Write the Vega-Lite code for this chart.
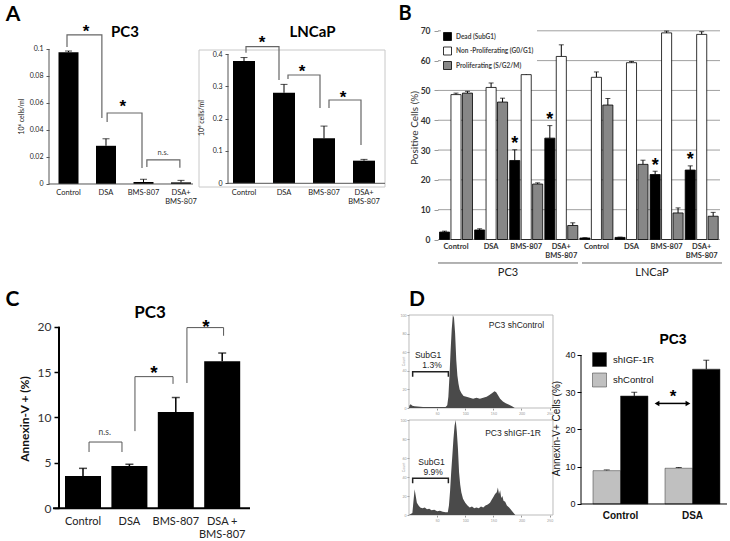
{
  "$schema": "https://vega.github.io/schema/vega-lite/v6.json",
  "background": "white",
  "width": 730,
  "height": 541,
  "autosize": {"type": "none"},
  "padding": 0,
  "config": {
    "view": {"stroke": null},
    "font": "Lato",
    "axis": {"labelFont": "Lato", "titleFont": "Lato", "grid": false},
    "legend": {"labelFont": "Lato"}
  },
  "layer": [
    {
      "layer": [
        {
          "data": {"values": [
            {"cond": "Control", "mean": 0.0976, "hi": 0.0985},
            {"cond": "DSA", "mean": 0.0283, "hi": 0.0335},
            {"cond": "BMS-807", "mean": 0.0015, "hi": 0.0035},
            {"cond": "DSA+ BMS-807", "mean": 0.0012, "hi": 0.0027}
          ]},
          "encoding": {
            "x": {"field": "cond", "type": "nominal", "sort": null,
              "scale": {"range": [49.75, 199.75], "paddingInner": 0.46667, "paddingOuter": 0.23333},
              "axis": {"orient": "bottom", "offset": -357, "title": null, "labelAngle": 0, "ticks": false, "domain": false, "labelFontSize": 7.5, "labelColor": "#222", "labelPadding": 4, "labelLineHeight": 9,
                "labelExpr": "datum.label == 'DSA+ BMS-807' ? ['DSA+', 'BMS-807'] : datum.label"}},
            "y": {"field": "mean", "type": "quantitative", "scale": {"domain": [-0.264444, 0.136296], "nice": false, "zero": false},
              "axis": {"orient": "left", "offset": -49, "title": null, "values": [0, 0.02, 0.04, 0.06, 0.08, 0.1], "format": "~g", "domain": false,
                "tickColor": "#555", "tickSize": 3, "labelFontSize": 7, "labelColor": "#222", "labelPadding": 3}}
          },
          "layer": [
            {"mark": {"type": "rule", "color": "#000", "strokeWidth": 1}, "encoding": {"y2": {"field": "hi"}}},
            {"mark": {"type": "tick", "color": "#000", "size": 7, "thickness": 1},
             "encoding": {"y": {"field": "hi", "type": "quantitative", "scale": {"domain": [-0.264444, 0.136296], "nice": false, "zero": false},
               "axis": {"orient": "left", "offset": -49, "title": null, "values": [0, 0.02, 0.04, 0.06, 0.08, 0.1], "format": "~g", "domain": false,
                 "tickColor": "#555", "tickSize": 3, "labelFontSize": 7, "labelColor": "#222", "labelPadding": 3}}}},
            {"mark": {"type": "bar", "color": "#000"}, "encoding": {"y2": {"datum": 0}}}
          ]
        },
        {
          "data": {"values": [{}]},
          "mark": {"type": "rule", "color": "#555", "strokeWidth": 1},
          "encoding": {
            "x": {"datum": -0.02, "type": "quantitative", "scale": {"domain": [-1.32667, 18.14], "nice": false, "zero": false}, "axis": null},
            "y": {"datum": 0, "type": "quantitative", "scale": {"domain": [-0.264444, 0.136296], "nice": false, "zero": false}, "axis": null},
            "y2": {"datum": 0.1}
          }
        },
        {
          "data": {"values": [{}]},
          "mark": {"type": "rule", "color": "#555", "strokeWidth": 1},
          "encoding": {
            "x": {"datum": -0.02, "type": "quantitative", "scale": {"domain": [-1.32667, 18.14], "nice": false, "zero": false}, "axis": null},
            "x2": {"datum": 3.82},
            "y": {"datum": 0, "type": "quantitative", "scale": {"domain": [-0.264444, 0.136296], "nice": false, "zero": false}, "axis": null}
          }
        },
        {
          "data": {"values": [
            {"b": 1, "k": 1, "x": 0.46, "y": 0.1015}, {"b": 1, "k": 2, "x": 0.46, "y": 0.1104}, {"b": 1, "k": 3, "x": 1.39, "y": 0.1104}, {"b": 1, "k": 4, "x": 1.39, "y": 0.0489},
            {"b": 2, "k": 1, "x": 1.53, "y": 0.0459}, {"b": 2, "k": 2, "x": 1.53, "y": 0.0526}, {"b": 2, "k": 3, "x": 2.46, "y": 0.0526}, {"b": 2, "k": 4, "x": 2.46, "y": 0.0119},
            {"b": 3, "k": 1, "x": 2.59, "y": 0.0126}, {"b": 3, "k": 2, "x": 2.59, "y": 0.0178}, {"b": 3, "k": 3, "x": 3.47, "y": 0.0178}, {"b": 3, "k": 4, "x": 3.47, "y": 0.012}
          ]},
          "mark": {"type": "line", "color": "#666", "strokeWidth": 1.2},
          "encoding": {
            "x": {"field": "x", "type": "quantitative", "scale": {"domain": [-1.32667, 18.14], "nice": false, "zero": false}, "axis": null},
            "y": {"field": "y", "type": "quantitative", "scale": {"domain": [-0.264444, 0.136296], "nice": false, "zero": false}, "axis": null},
            "detail": {"field": "b"},
            "order": {"field": "k"}
          }
        },
        {
          "data": {"values": [{"x": 0.97, "y": 0.1156, "t": "*"}, {"x": 1.95, "y": 0.06, "t": "*"}]},
          "mark": {"type": "text", "font": "Liberation Sans", "fontSize": 17, "fontWeight": "bold", "baseline": "middle", "dy": 4.5, "color": "#000"},
          "encoding": {
            "x": {"field": "x", "type": "quantitative", "scale": {"domain": [-1.32667, 18.14], "nice": false, "zero": false}, "axis": null},
            "y": {"field": "y", "type": "quantitative", "scale": {"domain": [-0.264444, 0.136296], "nice": false, "zero": false}, "axis": null},
            "text": {"field": "t"}
          }
        },
        {
          "data": {"values": [{"x": 3.02, "y": 0.023, "t": "n.s."}]},
          "mark": {"type": "text", "fontSize": 7.5, "color": "#444", "baseline": "middle"},
          "encoding": {
            "x": {"field": "x", "type": "quantitative", "scale": {"domain": [-1.32667, 18.14], "nice": false, "zero": false}, "axis": null},
            "y": {"field": "y", "type": "quantitative", "scale": {"domain": [-0.264444, 0.136296], "nice": false, "zero": false}, "axis": null},
            "text": {"field": "t"}
          }
        },
        {
          "data": {"values": [{}]},
          "mark": {"type": "text", "text": "PC3", "fontSize": 15, "fontWeight": "bold", "baseline": "middle", "color": "#000"},
          "encoding": {
            "x": {"datum": 2.0067, "type": "quantitative", "scale": {"domain": [-1.32667, 18.14], "nice": false, "zero": false}, "axis": null},
            "y": {"datum": 0.1126, "type": "quantitative", "scale": {"domain": [-0.264444, 0.136296], "nice": false, "zero": false}, "axis": null}
          }
        },
        {
          "data": {"values": [{}]},
          "mark": {"type": "text", "text": "A", "fontSize": 21, "fontWeight": "bold", "baseline": "middle", "color": "#000"},
          "encoding": {
            "x": {"datum": -0.98, "type": "quantitative", "scale": {"domain": [-1.32667, 18.14], "nice": false, "zero": false}, "axis": null},
            "y": {"datum": 0.12519, "type": "quantitative", "scale": {"domain": [-0.264444, 0.136296], "nice": false, "zero": false}, "axis": null}
          }
        },
        {
          "data": {"values": [{}]},
          "mark": {"type": "text", "text": "10⁶ cells/ml", "fontSize": 7, "angle": 270, "baseline": "middle", "color": "#222"},
          "encoding": {
            "x": {"datum": -0.74, "type": "quantitative", "scale": {"domain": [-1.32667, 18.14], "nice": false, "zero": false}, "axis": null},
            "y": {"datum": 0.05, "type": "quantitative", "scale": {"domain": [-0.264444, 0.136296], "nice": false, "zero": false}, "axis": null}
          }
        }
      ],
      "resolve": {"scale": {"x": "independent", "y": "independent"}}
    },
    {
      "layer": [
        {
          "data": {"values": [{}]},
          "mark": {"type": "rect", "fillOpacity": 0, "stroke": "#c8c8c8", "strokeWidth": 1},
          "encoding": {
            "x": {"datum": -0.625, "type": "quantitative", "scale": {"domain": [-5.6, 12.65], "nice": false, "zero": false}, "axis": null},
            "x2": {"datum": 4.025},
            "y": {"datum": -0.011446, "type": "quantitative", "scale": {"domain": [-1.10658, 0.56706], "nice": false, "zero": false}, "axis": null},
            "y2": {"datum": 0.41237}
          }
        },
        {
          "data": {"values": [
            {"cond": "Control", "mean": 0.378, "hi": 0.389},
            {"cond": "DSA", "mean": 0.28, "hi": 0.306},
            {"cond": "BMS-807", "mean": 0.139, "hi": 0.177},
            {"cond": "DSA+ BMS-807", "mean": 0.07, "hi": 0.074}
          ]},
          "encoding": {
            "x": {"field": "cond", "type": "nominal", "sort": null,
              "scale": {"range": [224, 384], "paddingInner": 0.45, "paddingOuter": 0.225},
              "axis": {"orient": "bottom", "offset": -357.7, "title": null, "labelAngle": 0, "ticks": false, "domain": false, "labelFontSize": 7.5, "labelColor": "#222", "labelPadding": 5, "labelLineHeight": 9,
                "labelExpr": "datum.label == 'DSA+ BMS-807' ? ['DSA+', 'BMS-807'] : datum.label"}},
            "y": {"field": "mean", "type": "quantitative", "scale": {"domain": [-1.10658, 0.56706], "nice": false, "zero": false},
              "axis": {"orient": "left", "offset": -228, "title": null, "values": [0, 0.1, 0.2, 0.3, 0.4], "format": "~g", "domain": false,
                "tickColor": "#555", "tickSize": 3, "labelFontSize": 7, "labelColor": "#222", "labelPadding": 3}}
          },
          "layer": [
            {"mark": {"type": "rule", "color": "#000", "strokeWidth": 1}, "encoding": {"y2": {"field": "hi"}}},
            {"mark": {"type": "tick", "color": "#000", "size": 7, "thickness": 1},
             "encoding": {"y": {"field": "hi", "type": "quantitative", "scale": {"domain": [-1.10658, 0.56706], "nice": false, "zero": false},
               "axis": {"orient": "left", "offset": -228, "title": null, "values": [0, 0.1, 0.2, 0.3, 0.4], "format": "~g", "domain": false,
                 "tickColor": "#555", "tickSize": 3, "labelFontSize": 7, "labelColor": "#222", "labelPadding": 3}}}},
            {"mark": {"type": "bar", "color": "#000"}, "encoding": {"y2": {"datum": 0}}}
          ]
        },
        {
          "data": {"values": [{}]},
          "mark": {"type": "rule", "color": "#555", "strokeWidth": 1},
          "encoding": {
            "x": {"datum": 0.1, "type": "quantitative", "scale": {"domain": [-5.6, 12.65], "nice": false, "zero": false}, "axis": null},
            "y": {"datum": 0, "type": "quantitative", "scale": {"domain": [-1.10658, 0.56706], "nice": false, "zero": false}, "axis": null},
            "y2": {"datum": 0.4}
          }
        },
        {
          "data": {"values": [{}]},
          "mark": {"type": "rule", "color": "#555", "strokeWidth": 1},
          "encoding": {
            "x": {"datum": 0.1, "type": "quantitative", "scale": {"domain": [-5.6, 12.65], "nice": false, "zero": false}, "axis": null},
            "x2": {"datum": 4.025},
            "y": {"datum": 0, "type": "quantitative", "scale": {"domain": [-1.10658, 0.56706], "nice": false, "zero": false}, "axis": null}
          }
        },
        {
          "data": {"values": [
            {"b": 1, "k": 1, "x": 0.55, "y": 0.404}, {"b": 1, "k": 2, "x": 0.55, "y": 0.4226}, {"b": 1, "k": 3, "x": 1.375, "y": 0.4226}, {"b": 1, "k": 4, "x": 1.375, "y": 0.3196},
            {"b": 2, "k": 1, "x": 1.6, "y": 0.3227}, {"b": 2, "k": 2, "x": 1.6, "y": 0.335}, {"b": 2, "k": 3, "x": 2.4, "y": 0.335}, {"b": 2, "k": 4, "x": 2.4, "y": 0.233},
            {"b": 3, "k": 1, "x": 2.625, "y": 0.233}, {"b": 3, "k": 2, "x": 2.625, "y": 0.2577}, {"b": 3, "k": 3, "x": 3.425, "y": 0.2577}, {"b": 3, "k": 4, "x": 3.425, "y": 0.1185}
          ]},
          "mark": {"type": "line", "color": "#666", "strokeWidth": 1.2},
          "encoding": {
            "x": {"field": "x", "type": "quantitative", "scale": {"domain": [-5.6, 12.65], "nice": false, "zero": false}, "axis": null},
            "y": {"field": "y", "type": "quantitative", "scale": {"domain": [-1.10658, 0.56706], "nice": false, "zero": false}, "axis": null},
            "detail": {"field": "b"},
            "order": {"field": "k"}
          }
        },
        {
          "data": {"values": [{"x": 0.95, "y": 0.4495, "t": "*"}, {"x": 1.95, "y": 0.3567, "t": "*"}, {"x": 2.975, "y": 0.2763, "t": "*"}]},
          "mark": {"type": "text", "font": "Liberation Sans", "fontSize": 17, "fontWeight": "bold", "baseline": "middle", "dy": 4.5, "color": "#000"},
          "encoding": {
            "x": {"field": "x", "type": "quantitative", "scale": {"domain": [-5.6, 12.65], "nice": false, "zero": false}, "axis": null},
            "y": {"field": "y", "type": "quantitative", "scale": {"domain": [-1.10658, 0.56706], "nice": false, "zero": false}, "axis": null},
            "text": {"field": "t"}
          }
        },
        {
          "data": {"values": [{}]},
          "mark": {"type": "text", "text": "LNCaP", "fontSize": 15, "fontWeight": "bold", "baseline": "middle", "color": "#000"},
          "encoding": {
            "x": {"datum": 2.2125, "type": "quantitative", "scale": {"domain": [-5.6, 12.65], "nice": false, "zero": false}, "axis": null},
            "y": {"datum": 0.46806, "type": "quantitative", "scale": {"domain": [-1.10658, 0.56706], "nice": false, "zero": false}, "axis": null}
          }
        },
        {
          "data": {"values": [{}]},
          "mark": {"type": "text", "text": "10⁶ cells/ml", "fontSize": 7, "angle": 270, "baseline": "middle", "color": "#222"},
          "encoding": {
            "x": {"datum": -0.55, "type": "quantitative", "scale": {"domain": [-5.6, 12.65], "nice": false, "zero": false}, "axis": null},
            "y": {"datum": 0.202, "type": "quantitative", "scale": {"domain": [-1.10658, 0.56706], "nice": false, "zero": false}, "axis": null}
          }
        }
      ],
      "resolve": {"scale": {"x": "independent", "y": "independent"}}
    },
    {
      "layer": [
        {
          "data": {"values": [{"g": 0}, {"g": 10}, {"g": 20}, {"g": 30}, {"g": 40}, {"g": 50}, {"g": 60}, {"g": 70}]},
          "mark": {"type": "rule", "color": "#a0a0a0", "strokeWidth": 1},
          "encoding": {
            "x": {"datum": -0.0128, "type": "quantitative", "scale": {"domain": [-12.4915, 8.30627], "nice": false, "zero": false}, "axis": null},
            "x2": {"datum": 8.0214},
            "y": {"field": "g", "type": "quantitative", "scale": {"domain": [-101.126, 80.331], "nice": false, "zero": false}, "axis": null}
          }
        },
        {
          "data": {"values": [
            {"grp": "PC3:Control", "series": "Dead (SubG1)", "v": 2.5, "hi": 2.8, "sig": ""},
            {"grp": "PC3:Control", "series": "Non  -Proliferating (G0/G1)", "v": 48.6, "hi": 49.1, "sig": ""},
            {"grp": "PC3:Control", "series": "Proliferating (S/G2/M)", "v": 49.1, "hi": 49.7, "sig": ""},
            {"grp": "PC3:DSA", "series": "Dead (SubG1)", "v": 3.2, "hi": 3.6, "sig": ""},
            {"grp": "PC3:DSA", "series": "Non  -Proliferating (G0/G1)", "v": 51.0, "hi": 52.5, "sig": ""},
            {"grp": "PC3:DSA", "series": "Proliferating (S/G2/M)", "v": 46.1, "hi": 47.4, "sig": ""},
            {"grp": "PC3:BMS-807", "series": "Dead (SubG1)", "v": 26.5, "hi": 30.1, "sig": "*"},
            {"grp": "PC3:BMS-807", "series": "Non  -Proliferating (G0/G1)", "v": 55.3, "hi": 59.4, "sig": ""},
            {"grp": "PC3:BMS-807", "series": "Proliferating (S/G2/M)", "v": 18.6, "hi": 19.0, "sig": ""},
            {"grp": "PC3:DSA+ BMS-807", "series": "Dead (SubG1)", "v": 34.0, "hi": 38.2, "sig": "*"},
            {"grp": "PC3:DSA+ BMS-807", "series": "Non  -Proliferating (G0/G1)", "v": 61.4, "hi": 65.3, "sig": ""},
            {"grp": "PC3:DSA+ BMS-807", "series": "Proliferating (S/G2/M)", "v": 4.7, "hi": 5.6, "sig": ""},
            {"grp": "LNCaP:Control", "series": "Dead (SubG1)", "v": 0.5, "hi": 0.6, "sig": ""},
            {"grp": "LNCaP:Control", "series": "Non  -Proliferating (G0/G1)", "v": 54.4, "hi": 56.2, "sig": ""},
            {"grp": "LNCaP:Control", "series": "Proliferating (S/G2/M)", "v": 45.1, "hi": 47.3, "sig": ""},
            {"grp": "LNCaP:DSA", "series": "Dead (SubG1)", "v": 0.7, "hi": 0.8, "sig": ""},
            {"grp": "LNCaP:DSA", "series": "Non  -Proliferating (G0/G1)", "v": 59.3, "hi": 59.7, "sig": ""},
            {"grp": "LNCaP:DSA", "series": "Proliferating (S/G2/M)", "v": 25.2, "hi": 26.6, "sig": ""},
            {"grp": "LNCaP:BMS-807", "series": "Dead (SubG1)", "v": 21.8, "hi": 22.9, "sig": "*"},
            {"grp": "LNCaP:BMS-807", "series": "Non  -Proliferating (G0/G1)", "v": 69.3, "hi": 69.9, "sig": ""},
            {"grp": "LNCaP:BMS-807", "series": "Proliferating (S/G2/M)", "v": 8.9, "hi": 10.6, "sig": ""},
            {"grp": "LNCaP:DSA+ BMS-807", "series": "Dead (SubG1)", "v": 23.3, "hi": 24.7, "sig": "*"},
            {"grp": "LNCaP:DSA+ BMS-807", "series": "Non  -Proliferating (G0/G1)", "v": 68.8, "hi": 69.7, "sig": ""},
            {"grp": "LNCaP:DSA+ BMS-807", "series": "Proliferating (S/G2/M)", "v": 7.8, "hi": 9.1, "sig": ""}
          ]},
          "encoding": {
            "x": {"field": "grp", "type": "nominal", "sort": null,
              "scale": {"range": [438.45, 719.25], "paddingInner": 0.05983, "paddingOuter": 0.029915},
              "axis": {"orient": "bottom", "offset": -301.5, "title": null, "labelAngle": 0, "ticks": false, "domain": false, "labelFontSize": 7.5, "labelColor": "#333", "labelFontWeight": "bold", "labelPadding": 3, "labelLineHeight": 9,
                "labelExpr": "split(split(datum.label, ':')[1], ' ')"}},
            "xOffset": {"field": "series", "type": "nominal", "sort": ["Dead (SubG1)", "Non  -Proliferating (G0/G1)", "Proliferating (S/G2/M)"],
              "scale": {"paddingInner": 0.12, "paddingOuter": 0}},
            "y": {"field": "v", "type": "quantitative", "scale": {"domain": [-101.126, 80.331], "nice": false, "zero": false},
              "axis": {"orient": "left", "offset": -438, "title": null, "values": [0, 10, 20, 30, 40, 50, 60, 70], "domain": false,
                "ticks": true, "tickSize": 4, "tickColor": "#999", "labelFontSize": 8.5, "labelFontWeight": "bold", "labelColor": "#333", "labelPadding": 4}}
          },
          "layer": [
            {"mark": {"type": "rule", "color": "#000", "strokeWidth": 1}, "encoding": {"y2": {"field": "hi"}}},
            {"mark": {"type": "tick", "color": "#000", "size": 5, "thickness": 1},
             "encoding": {"y": {"field": "hi", "type": "quantitative", "scale": {"domain": [-101.126, 80.331], "nice": false, "zero": false},
               "axis": {"orient": "left", "offset": -438, "title": null, "values": [0, 10, 20, 30, 40, 50, 60, 70], "domain": false,
                 "ticks": true, "tickSize": 4, "tickColor": "#999", "labelFontSize": 8.5, "labelFontWeight": "bold", "labelColor": "#333", "labelPadding": 4}}}},
            {"mark": {"type": "bar", "stroke": "#000", "strokeWidth": 0.8},
             "encoding": {
               "y2": {"datum": 0},
               "fill": {"field": "series", "type": "nominal",
                 "scale": {"domain": ["Dead (SubG1)", "Non  -Proliferating (G0/G1)", "Proliferating (S/G2/M)"], "range": ["#000000", "#ffffff", "#878787"]},
                 "legend": {"orient": "none", "legendX": 441, "legendY": 30, "title": null, "symbolType": "square", "symbolSize": 64,
                   "symbolStrokeColor": "#000", "symbolStrokeWidth": 0.8, "labelFontSize": 6.5, "labelFontWeight": "bold", "labelColor": "#444",
                   "rowPadding": 1.5, "padding": 2, "labelOffset": 4, "fillColor": "#ffffff"}}
             }},
            {"mark": {"type": "text", "font": "Liberation Sans", "fontSize": 18, "fontWeight": "bold", "baseline": "middle", "dy": -5.6, "color": "#000"},
             "encoding": {
               "y": {"field": "hi", "type": "quantitative", "scale": {"domain": [-101.126, 80.331], "nice": false, "zero": false},
                 "axis": {"orient": "left", "offset": -438, "title": null, "values": [0, 10, 20, 30, 40, 50, 60, 70], "domain": false,
                   "ticks": true, "tickSize": 4, "tickColor": "#999", "labelFontSize": 8.5, "labelFontWeight": "bold", "labelColor": "#333", "labelPadding": 4}},
               "text": {"field": "sig"}}}
          ]
        },
        {
          "data": {"values": [{"cell": "PC3", "a": -0.0128, "b": 3.976, "m": 1.981}, {"cell": "LNCaP", "a": 4.09, "b": 8.078, "m": 6.084}]},
          "layer": [
            {"mark": {"type": "rule", "color": "#666", "strokeWidth": 1},
             "encoding": {
               "x": {"field": "a", "type": "quantitative", "scale": {"domain": [-12.4915, 8.30627], "nice": false, "zero": false}, "axis": null},
               "x2": {"field": "b"},
               "y": {"datum": -7.88, "type": "quantitative", "scale": {"domain": [-101.126, 80.331], "nice": false, "zero": false}, "axis": null}}},
            {"mark": {"type": "text", "fontSize": 11, "baseline": "middle", "color": "#222"},
             "encoding": {
               "x": {"field": "m", "type": "quantitative", "scale": {"domain": [-12.4915, 8.30627], "nice": false, "zero": false}, "axis": null},
               "y": {"datum": -11.24, "type": "quantitative", "scale": {"domain": [-101.126, 80.331], "nice": false, "zero": false}, "axis": null},
               "text": {"field": "cell"}}}
          ]
        },
        {
          "data": {"values": [{}]},
          "mark": {"type": "text", "text": "B", "fontSize": 20, "fontWeight": "bold", "baseline": "middle", "color": "#000"},
          "encoding": {
            "x": {"datum": -0.953, "type": "quantitative", "scale": {"domain": [-12.4915, 8.30627], "nice": false, "zero": false}, "axis": null},
            "y": {"datum": 75.6, "type": "quantitative", "scale": {"domain": [-101.126, 80.331], "nice": false, "zero": false}, "axis": null}
          }
        },
        {
          "data": {"values": [{}]},
          "mark": {"type": "text", "text": "Positive Cells (%)", "fontSize": 10, "angle": 270, "baseline": "middle", "color": "#333"},
          "encoding": {
            "x": {"datum": -0.668, "type": "quantitative", "scale": {"domain": [-12.4915, 8.30627], "nice": false, "zero": false}, "axis": null},
            "y": {"datum": 37.4, "type": "quantitative", "scale": {"domain": [-101.126, 80.331], "nice": false, "zero": false}, "axis": null}
          }
        }
      ],
      "resolve": {"scale": {"x": "independent", "y": "independent"}}
    },
    {
      "layer": [
        {
          "data": {"values": [
            {"cond": "Control", "mean": 3.55, "hi": 4.4},
            {"cond": "DSA", "mean": 4.65, "hi": 4.85},
            {"cond": "BMS-807", "mean": 10.6, "hi": 12.2},
            {"cond": "DSA + BMS-807", "mean": 16.2, "hi": 17.1}
          ]},
          "encoding": {
            "x": {"field": "cond", "type": "nominal", "sort": null,
              "scale": {"range": [59.8, 245.4], "paddingInner": 0.22414, "paddingOuter": 0.11207},
              "axis": {"orient": "bottom", "offset": -32.7, "title": null, "labelAngle": 0, "ticks": false, "domain": false, "labelFontSize": 11, "labelColor": "#222", "labelPadding": 7, "labelLineHeight": 13,
                "labelExpr": "datum.label == 'DSA + BMS-807' ? ['DSA +', 'BMS-807'] : datum.label"}},
            "y": {"field": "mean", "type": "quantitative", "scale": {"domain": [-3.60132, 55.9801], "nice": false, "zero": false},
              "axis": {"orient": "left", "offset": -59, "title": null, "values": [0, 5, 10, 15, 20], "domain": false,
                "tickColor": "#000", "tickWidth": 1.5, "tickSize": 5, "labelFontSize": 12, "labelColor": "#333", "labelPadding": 3}}
          },
          "layer": [
            {"mark": {"type": "rule", "color": "#000", "strokeWidth": 1.5}, "encoding": {"y2": {"field": "hi"}}},
            {"mark": {"type": "tick", "color": "#000", "size": 8, "thickness": 1.5},
             "encoding": {"y": {"field": "hi", "type": "quantitative", "scale": {"domain": [-3.60132, 55.9801], "nice": false, "zero": false},
               "axis": {"orient": "left", "offset": -59, "title": null, "values": [0, 5, 10, 15, 20], "domain": false,
                 "tickColor": "#000", "tickWidth": 1.5, "tickSize": 5, "labelFontSize": 12, "labelColor": "#333", "labelPadding": 3}}}},
            {"mark": {"type": "bar", "color": "#000"}, "encoding": {"y2": {"datum": 0}}}
          ]
        },
        {
          "data": {"values": [{}]},
          "mark": {"type": "rule", "color": "#000", "strokeWidth": 2},
          "encoding": {
            "x": {"datum": -0.0172, "type": "quantitative", "scale": {"domain": [-1.28879, 14.444], "nice": false, "zero": false}, "axis": null},
            "y": {"datum": 0, "type": "quantitative", "scale": {"domain": [-3.60132, 55.9801], "nice": false, "zero": false}, "axis": null},
            "y2": {"datum": 20}
          }
        },
        {
          "data": {"values": [{}]},
          "mark": {"type": "rule", "color": "#000", "strokeWidth": 2},
          "encoding": {
            "x": {"datum": -0.147, "type": "quantitative", "scale": {"domain": [-1.28879, 14.444], "nice": false, "zero": false}, "axis": null},
            "x2": {"datum": 4.099},
            "y": {"datum": 0, "type": "quantitative", "scale": {"domain": [-3.60132, 55.9801], "nice": false, "zero": false}, "axis": null}
          }
        },
        {
          "data": {"values": [
            {"b": 1, "k": 1, "x": 0.63, "y": 6.2}, {"b": 1, "k": 2, "x": 0.63, "y": 7.3}, {"b": 1, "k": 3, "x": 1.34, "y": 7.3}, {"b": 1, "k": 4, "x": 1.34, "y": 6.2},
            {"b": 2, "k": 1, "x": 1.62, "y": 8.5}, {"b": 2, "k": 2, "x": 1.62, "y": 14.5}, {"b": 2, "k": 3, "x": 2.44, "y": 14.5}, {"b": 2, "k": 4, "x": 2.44, "y": 13.7},
            {"b": 3, "k": 1, "x": 2.74, "y": 13.8}, {"b": 3, "k": 2, "x": 2.74, "y": 19.9}, {"b": 3, "k": 3, "x": 3.53, "y": 19.9}, {"b": 3, "k": 4, "x": 3.53, "y": 19.0}
          ]},
          "mark": {"type": "line", "color": "#555", "strokeWidth": 1},
          "encoding": {
            "x": {"field": "x", "type": "quantitative", "scale": {"domain": [-1.28879, 14.444], "nice": false, "zero": false}, "axis": null},
            "y": {"field": "y", "type": "quantitative", "scale": {"domain": [-3.60132, 55.9801], "nice": false, "zero": false}, "axis": null},
            "detail": {"field": "b"},
            "order": {"field": "k"}
          }
        },
        {
          "data": {"values": [{"x": 2.03, "y": 15.5, "t": "*"}, {"x": 3.15, "y": 20.55, "t": "*"}]},
          "mark": {"type": "text", "font": "Liberation Sans", "fontSize": 19, "fontWeight": "bold", "baseline": "middle", "dy": 5, "color": "#000"},
          "encoding": {
            "x": {"field": "x", "type": "quantitative", "scale": {"domain": [-1.28879, 14.444], "nice": false, "zero": false}, "axis": null},
            "y": {"field": "y", "type": "quantitative", "scale": {"domain": [-3.60132, 55.9801], "nice": false, "zero": false}, "axis": null},
            "text": {"field": "t"}
          }
        },
        {
          "data": {"values": [{"x": 0.97, "y": 8.4, "t": "n.s."}]},
          "mark": {"type": "text", "fontSize": 8.5, "color": "#444", "baseline": "middle"},
          "encoding": {
            "x": {"field": "x", "type": "quantitative", "scale": {"domain": [-1.28879, 14.444], "nice": false, "zero": false}, "axis": null},
            "y": {"field": "y", "type": "quantitative", "scale": {"domain": [-3.60132, 55.9801], "nice": false, "zero": false}, "axis": null},
            "text": {"field": "t"}
          }
        },
        {
          "data": {"values": [{}]},
          "mark": {"type": "text", "text": "PC3", "fontSize": 17, "fontWeight": "bold", "baseline": "middle", "color": "#000"},
          "encoding": {
            "x": {"datum": 1.944, "type": "quantitative", "scale": {"domain": [-1.28879, 14.444], "nice": false, "zero": false}, "axis": null},
            "y": {"datum": 21.51, "type": "quantitative", "scale": {"domain": [-3.60132, 55.9801], "nice": false, "zero": false}, "axis": null}
          }
        },
        {
          "data": {"values": [{}]},
          "mark": {"type": "text", "text": "C", "fontSize": 21, "fontWeight": "bold", "baseline": "middle", "color": "#000"},
          "encoding": {
            "x": {"datum": -1.019, "type": "quantitative", "scale": {"domain": [-1.28879, 14.444], "nice": false, "zero": false}, "axis": null},
            "y": {"datum": 22.94, "type": "quantitative", "scale": {"domain": [-3.60132, 55.9801], "nice": false, "zero": false}, "axis": null}
          }
        },
        {
          "data": {"values": [{}]},
          "mark": {"type": "text", "text": "Annexin-V + (%)", "fontSize": 12, "fontWeight": "bold", "angle": 270, "baseline": "middle", "color": "#111"},
          "encoding": {
            "x": {"datum": -0.75, "type": "quantitative", "scale": {"domain": [-1.28879, 14.444], "nice": false, "zero": false}, "axis": null},
            "y": {"datum": 9.83, "type": "quantitative", "scale": {"domain": [-3.60132, 55.9801], "nice": false, "zero": false}, "axis": null}
          }
        }
      ],
      "resolve": {"scale": {"x": "independent", "y": "independent"}}
    },
    {
      "layer": [
        {
          "data": {"values": [{}]},
          "mark": {"type": "rect", "fillOpacity": 0, "stroke": "#bbbbbb", "strokeWidth": 1},
          "encoding": {
            "x": {"datum": 0, "type": "quantitative", "scale": {"domain": [-727.11, 570.67], "nice": false, "zero": false}, "axis": null},
            "x2": {"datum": 256},
            "y": {"datum": 0, "type": "quantitative", "scale": {"domain": [-143.01, 438.71], "nice": false, "zero": false}, "axis": null},
            "y2": {"datum": 100}
          }
        },
        {
          "data": {"values": [
            {"ch": 0, "n": 0}, {"ch": 1, "n": 3}, {"ch": 3, "n": 4}, {"ch": 6, "n": 2.5}, {"ch": 10, "n": 2}, {"ch": 15, "n": 1.5}, {"ch": 25, "n": 1.2},
            {"ch": 40, "n": 1}, {"ch": 55, "n": 1}, {"ch": 65, "n": 1.2}, {"ch": 68, "n": 3}, {"ch": 70, "n": 12}, {"ch": 72, "n": 35}, {"ch": 74, "n": 62},
            {"ch": 76, "n": 85}, {"ch": 78, "n": 100}, {"ch": 80, "n": 97}, {"ch": 82, "n": 80}, {"ch": 84, "n": 52}, {"ch": 86, "n": 35}, {"ch": 88, "n": 26},
            {"ch": 90, "n": 20}, {"ch": 93, "n": 16}, {"ch": 97, "n": 13}, {"ch": 102, "n": 12}, {"ch": 108, "n": 11}, {"ch": 114, "n": 10}, {"ch": 120, "n": 11},
            {"ch": 126, "n": 10}, {"ch": 132, "n": 11}, {"ch": 138, "n": 12}, {"ch": 143, "n": 14}, {"ch": 148, "n": 16}, {"ch": 152, "n": 18}, {"ch": 155, "n": 17},
            {"ch": 158, "n": 14}, {"ch": 162, "n": 10}, {"ch": 167, "n": 7}, {"ch": 172, "n": 5}, {"ch": 178, "n": 3.5}, {"ch": 184, "n": 1.5}, {"ch": 188, "n": 0},
            {"ch": 256, "n": 0}
          ]},
          "mark": {"type": "area", "color": "#4a4a4a"},
          "encoding": {
            "x": {"field": "ch", "type": "quantitative", "scale": {"domain": [-727.11, 570.67], "nice": false, "zero": false},
              "axis": {"orient": "bottom", "offset": -133, "title": null, "values": [50, 100, 150, 200, 250], "domain": false, "labelFontSize": 3.5, "labelColor": "#999", "tickSize": 2, "tickColor": "#999", "labelPadding": 1}},
            "y": {"field": "n", "type": "quantitative", "scale": {"domain": [-143.01, 438.71], "nice": false, "zero": false},
              "axis": {"orient": "left", "offset": -409, "title": null, "values": [0, 20, 40, 60, 80, 100], "domain": false, "labelFontSize": 3.5, "labelColor": "#999", "tickSize": 2, "tickColor": "#999", "labelPadding": 1}},
            "y2": {"datum": 0}
          }
        },
        {
          "data": {"values": [{"k": 1, "x": 6.5, "y": 33.7}, {"k": 2, "x": 6.5, "y": 39}, {"k": 3, "x": 70, "y": 39}, {"k": 4, "x": 70, "y": 33.7}]},
          "mark": {"type": "line", "color": "#222", "strokeWidth": 1.5},
          "encoding": {
            "x": {"field": "x", "type": "quantitative", "scale": {"domain": [-727.11, 570.67], "nice": false, "zero": false}, "axis": null},
            "y": {"field": "y", "type": "quantitative", "scale": {"domain": [-143.01, 438.71], "nice": false, "zero": false}, "axis": null},
            "order": {"field": "k"}
          }
        },
        {
          "data": {"values": [{"x": 34, "y": 57, "t": "SubG1"}, {"x": 41, "y": 46, "t": "1.3%"}, {"x": 191, "y": 89, "t": "PC3 shControl"}]},
          "mark": {"type": "text", "font": "Liberation Sans", "fontSize": 8.5, "color": "#222", "baseline": "middle"},
          "encoding": {
            "x": {"field": "x", "type": "quantitative", "scale": {"domain": [-727.11, 570.67], "nice": false, "zero": false}, "axis": null},
            "y": {"field": "y", "type": "quantitative", "scale": {"domain": [-143.01, 438.71], "nice": false, "zero": false}, "axis": null},
            "text": {"field": "t"}
          }
        },
        {
          "data": {"values": [{}]},
          "mark": {"type": "text", "text": "Count", "font": "Liberation Sans", "fontSize": 3.5, "angle": 270, "color": "#999", "baseline": "middle"},
          "encoding": {
            "x": {"datum": -9, "type": "quantitative", "scale": {"domain": [-727.11, 570.67], "nice": false, "zero": false}, "axis": null},
            "y": {"datum": 50, "type": "quantitative", "scale": {"domain": [-143.01, 438.71], "nice": false, "zero": false}, "axis": null}
          }
        },
        {
          "data": {"values": [{}]},
          "mark": {"type": "text", "text": "D", "fontSize": 21, "fontWeight": "bold", "baseline": "middle", "color": "#000"},
          "encoding": {
            "x": {"datum": 14.2, "type": "quantitative", "scale": {"domain": [-727.11, 570.67], "nice": false, "zero": false}, "axis": null},
            "y": {"datum": 116.1, "type": "quantitative", "scale": {"domain": [-143.01, 438.71], "nice": false, "zero": false}, "axis": null}
          }
        }
      ],
      "resolve": {"scale": {"x": "independent", "y": "independent"}}
    },
    {
      "layer": [
        {
          "data": {"values": [{}]},
          "mark": {"type": "rect", "fillOpacity": 0, "stroke": "#bbbbbb", "strokeWidth": 1},
          "encoding": {
            "x": {"datum": 0, "type": "quantitative", "scale": {"domain": [-727.11, 570.67], "nice": false, "zero": false}, "axis": null},
            "x2": {"datum": 256},
            "y": {"datum": 0, "type": "quantitative", "scale": {"domain": [-27.368, 542.105], "nice": false, "zero": false}, "axis": null},
            "y2": {"datum": 100}
          }
        },
        {
          "data": {"values": [
            {"ch": 0, "n": 0}, {"ch": 6, "n": 2}, {"ch": 8, "n": 15}, {"ch": 10, "n": 27}, {"ch": 12, "n": 20}, {"ch": 14, "n": 13}, {"ch": 17, "n": 10},
            {"ch": 20, "n": 8}, {"ch": 24, "n": 7}, {"ch": 28, "n": 8}, {"ch": 32, "n": 6}, {"ch": 36, "n": 6.5}, {"ch": 40, "n": 5}, {"ch": 45, "n": 5.5},
            {"ch": 50, "n": 4}, {"ch": 55, "n": 4.5}, {"ch": 60, "n": 3.5}, {"ch": 65, "n": 3}, {"ch": 69, "n": 3}, {"ch": 71, "n": 10}, {"ch": 73, "n": 25},
            {"ch": 75, "n": 45}, {"ch": 77, "n": 62}, {"ch": 79, "n": 80}, {"ch": 81, "n": 94}, {"ch": 83, "n": 100}, {"ch": 85, "n": 88}, {"ch": 87, "n": 70},
            {"ch": 89, "n": 45}, {"ch": 91, "n": 32}, {"ch": 93, "n": 24}, {"ch": 96, "n": 17}, {"ch": 100, "n": 13}, {"ch": 104, "n": 10}, {"ch": 108, "n": 8},
            {"ch": 112, "n": 9}, {"ch": 116, "n": 7}, {"ch": 120, "n": 8}, {"ch": 124, "n": 7}, {"ch": 128, "n": 9}, {"ch": 132, "n": 8}, {"ch": 136, "n": 10},
            {"ch": 140, "n": 11}, {"ch": 144, "n": 13}, {"ch": 147, "n": 16}, {"ch": 150, "n": 19}, {"ch": 153, "n": 22}, {"ch": 156, "n": 24}, {"ch": 158, "n": 29},
            {"ch": 160, "n": 22}, {"ch": 162, "n": 26}, {"ch": 164, "n": 18}, {"ch": 166, "n": 20}, {"ch": 168, "n": 15}, {"ch": 171, "n": 14}, {"ch": 174, "n": 10},
            {"ch": 178, "n": 8}, {"ch": 182, "n": 5}, {"ch": 186, "n": 2}, {"ch": 189, "n": 0}, {"ch": 256, "n": 0}
          ]},
          "mark": {"type": "area", "color": "#4a4a4a"},
          "encoding": {
            "x": {"field": "ch", "type": "quantitative", "scale": {"domain": [-727.11, 570.67], "nice": false, "zero": false},
              "axis": {"orient": "bottom", "offset": -26, "title": null, "values": [50, 100, 150, 200, 250], "domain": false, "labelFontSize": 3.5, "labelColor": "#999", "tickSize": 2, "tickColor": "#999", "labelPadding": 1}},
            "y": {"field": "n", "type": "quantitative", "scale": {"domain": [-27.368, 542.105], "nice": false, "zero": false},
              "axis": {"orient": "left", "offset": -409, "title": null, "values": [0, 20, 40, 60, 80, 100], "domain": false, "labelFontSize": 3.5, "labelColor": "#999", "tickSize": 2, "tickColor": "#999", "labelPadding": 1}},
            "y2": {"datum": 0}
          }
        },
        {
          "data": {"values": [{"k": 1, "x": 6.5, "y": 33.4}, {"k": 2, "x": 6.5, "y": 38.6}, {"k": 3, "x": 70, "y": 38.6}, {"k": 4, "x": 70, "y": 33.4}]},
          "mark": {"type": "line", "color": "#222", "strokeWidth": 1.5},
          "encoding": {
            "x": {"field": "x", "type": "quantitative", "scale": {"domain": [-727.11, 570.67], "nice": false, "zero": false}, "axis": null},
            "y": {"field": "y", "type": "quantitative", "scale": {"domain": [-27.368, 542.105], "nice": false, "zero": false}, "axis": null},
            "order": {"field": "k"}
          }
        },
        {
          "data": {"values": [{"x": 40, "y": 56, "t": "SubG1"}, {"x": 43, "y": 45.6, "t": "9.9%"}, {"x": 185, "y": 86, "t": "PC3 shIGF-1R"}]},
          "mark": {"type": "text", "font": "Liberation Sans", "fontSize": 8.5, "color": "#222", "baseline": "middle"},
          "encoding": {
            "x": {"field": "x", "type": "quantitative", "scale": {"domain": [-727.11, 570.67], "nice": false, "zero": false}, "axis": null},
            "y": {"field": "y", "type": "quantitative", "scale": {"domain": [-27.368, 542.105], "nice": false, "zero": false}, "axis": null},
            "text": {"field": "t"}
          }
        },
        {
          "data": {"values": [{}]},
          "mark": {"type": "text", "text": "Count", "font": "Liberation Sans", "fontSize": 3.5, "angle": 270, "color": "#999", "baseline": "middle"},
          "encoding": {
            "x": {"datum": -9, "type": "quantitative", "scale": {"domain": [-727.11, 570.67], "nice": false, "zero": false}, "axis": null},
            "y": {"datum": 50, "type": "quantitative", "scale": {"domain": [-27.368, 542.105], "nice": false, "zero": false}, "axis": null}
          }
        }
      ],
      "resolve": {"scale": {"x": "independent", "y": "independent"}}
    },
    {
      "layer": [
        {
          "data": {"values": [
            {"cond": "Control", "sh": "shControl", "mean": 8.95, "hi": 9.15},
            {"cond": "Control", "sh": "shIGF-1R", "mean": 29.0, "hi": 30.0},
            {"cond": "DSA", "sh": "shControl", "mean": 9.6, "hi": 9.8},
            {"cond": "DSA", "sh": "shIGF-1R", "mean": 36.2, "hi": 38.6}
          ]},
          "encoding": {
            "x": {"field": "cond", "type": "nominal", "sort": null,
              "scale": {"range": [584.5, 728.5], "paddingInner": 0.236111, "paddingOuter": 0.118056},
              "axis": {"orient": "bottom", "offset": -37, "title": null, "labelAngle": 0, "ticks": false, "domain": false, "labelFont": "Liberation Sans", "labelFontSize": 10, "labelFontWeight": "bold", "labelColor": "#111", "labelPadding": 6}},
            "xOffset": {"field": "sh", "type": "nominal", "sort": ["shControl", "shIGF-1R"], "scale": {"paddingInner": 0, "paddingOuter": 0}},
            "y": {"field": "mean", "type": "quantitative", "scale": {"domain": [-9.93289, 135.302], "nice": false, "zero": false},
              "axis": {"orient": "left", "offset": -581, "title": null, "values": [0, 10, 20, 30, 40], "domain": false, "tickColor": "#000", "tickSize": 4,
                "labelFont": "Liberation Sans", "labelFontSize": 9, "labelColor": "#111", "labelPadding": 2}}
          },
          "layer": [
            {"mark": {"type": "rule", "color": "#000", "strokeWidth": 1}, "encoding": {"y2": {"field": "hi"}}},
            {"mark": {"type": "tick", "color": "#000", "size": 6, "thickness": 1},
             "encoding": {"y": {"field": "hi", "type": "quantitative", "scale": {"domain": [-9.93289, 135.302], "nice": false, "zero": false},
               "axis": {"orient": "left", "offset": -581, "title": null, "values": [0, 10, 20, 30, 40], "domain": false, "tickColor": "#000", "tickSize": 4,
                 "labelFont": "Liberation Sans", "labelFontSize": 9, "labelColor": "#111", "labelPadding": 2}}}},
            {"mark": {"type": "bar", "stroke": "#333", "strokeWidth": 0.5},
             "encoding": {
               "y2": {"datum": 0},
               "fill": {"field": "sh", "type": "nominal",
                 "scale": {"domain": ["shIGF-1R", "shControl"], "range": ["#000000", "#c0c0c0"]},
                 "legend": {"orient": "none", "legendX": 590, "legendY": 350, "title": null, "symbolType": "square", "symbolSize": 196,
                   "symbolStrokeColor": "#333", "symbolStrokeWidth": 0.5, "labelFont": "Liberation Sans", "labelFontSize": 9.5, "labelColor": "#111",
                   "rowPadding": 3.5, "padding": 2, "labelOffset": 6}}
             }}
          ]
        },
        {
          "data": {"values": [{}]},
          "mark": {"type": "rule", "color": "#000", "strokeWidth": 1},
          "encoding": {
            "x": {"datum": -0.0486, "type": "quantitative", "scale": {"domain": [-8.11806, 2.02083], "nice": false, "zero": false}, "axis": null},
            "y": {"datum": 0, "type": "quantitative", "scale": {"domain": [-9.93289, 135.302], "nice": false, "zero": false}, "axis": null},
            "y2": {"datum": 40}
          }
        },
        {
          "data": {"values": [{}]},
          "mark": {"type": "rule", "color": "#000", "strokeWidth": 1},
          "encoding": {
            "x": {"datum": -0.0486, "type": "quantitative", "scale": {"domain": [-8.11806, 2.02083], "nice": false, "zero": false}, "axis": null},
            "x2": {"datum": 1.979},
            "y": {"datum": 0, "type": "quantitative", "scale": {"domain": [-9.93289, 135.302], "nice": false, "zero": false}, "axis": null}
          }
        },
        {
          "data": {"values": [{"a": 1.007, "b": 1.437, "y": 27}]},
          "layer": [
            {"mark": {"type": "rule", "color": "#000", "strokeWidth": 1.5},
             "encoding": {
               "x": {"field": "a", "type": "quantitative", "scale": {"domain": [-8.11806, 2.02083], "nice": false, "zero": false}, "axis": null},
               "x2": {"field": "b"},
               "y": {"field": "y", "type": "quantitative", "scale": {"domain": [-9.93289, 135.302], "nice": false, "zero": false}, "axis": null}}},
            {"mark": {"type": "point", "shape": "triangle-left", "filled": true, "color": "#000", "size": 30, "opacity": 1},
             "encoding": {
               "x": {"field": "a", "type": "quantitative", "scale": {"domain": [-8.11806, 2.02083], "nice": false, "zero": false}, "axis": null},
               "y": {"field": "y", "type": "quantitative", "scale": {"domain": [-9.93289, 135.302], "nice": false, "zero": false}, "axis": null}}},
            {"mark": {"type": "point", "shape": "triangle-right", "filled": true, "color": "#000", "size": 30, "opacity": 1},
             "encoding": {
               "x": {"field": "b", "type": "quantitative", "scale": {"domain": [-8.11806, 2.02083], "nice": false, "zero": false}, "axis": null},
               "y": {"field": "y", "type": "quantitative", "scale": {"domain": [-9.93289, 135.302], "nice": false, "zero": false}, "axis": null}}}
          ]
        },
        {
          "data": {"values": [{"x": 1.229, "y": 29.8, "t": "*"}]},
          "mark": {"type": "text", "fontSize": 17, "fontWeight": "bold", "baseline": "middle", "dy": 4.5, "font": "Liberation Sans", "color": "#000"},
          "encoding": {
            "x": {"field": "x", "type": "quantitative", "scale": {"domain": [-8.11806, 2.02083], "nice": false, "zero": false}, "axis": null},
            "y": {"field": "y", "type": "quantitative", "scale": {"domain": [-9.93289, 135.302], "nice": false, "zero": false}, "axis": null},
            "text": {"field": "t"}
          }
        },
        {
          "data": {"values": [{}]},
          "mark": {"type": "text", "text": "PC3", "font": "Liberation Sans", "fontSize": 14, "fontWeight": "bold", "baseline": "middle", "color": "#000"},
          "encoding": {
            "x": {"datum": 1.229, "type": "quantitative", "scale": {"domain": [-8.11806, 2.02083], "nice": false, "zero": false}, "axis": null},
            "y": {"datum": 44.03, "type": "quantitative", "scale": {"domain": [-9.93289, 135.302], "nice": false, "zero": false}, "axis": null}
          }
        },
        {
          "data": {"values": [{}]},
          "mark": {"type": "text", "text": "Annexin-V+ Cells (%)", "font": "Liberation Sans", "fontSize": 10, "angle": 270, "baseline": "middle", "color": "#111"},
          "encoding": {
            "x": {"datum": -0.382, "type": "quantitative", "scale": {"domain": [-8.11806, 2.02083], "nice": false, "zero": false}, "axis": null},
            "y": {"datum": 20.27, "type": "quantitative", "scale": {"domain": [-9.93289, 135.302], "nice": false, "zero": false}, "axis": null}
          }
        }
      ],
      "resolve": {"scale": {"x": "independent", "y": "independent"}}
    }
  ],
  "resolve": {"scale": {"x": "independent", "y": "independent", "fill": "independent", "xOffset": "independent"}}
}
